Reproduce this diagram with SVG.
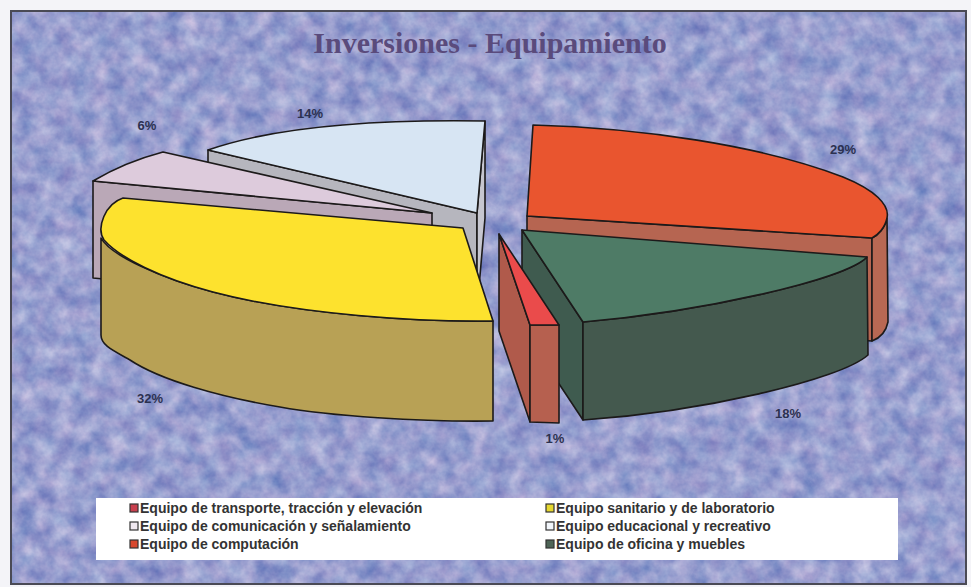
<svg xmlns="http://www.w3.org/2000/svg" width="971" height="587" viewBox="0 0 971 587">
<style>
.edge{stroke:#1c1a1a;stroke-width:1.6;stroke-linejoin:round}
.pct{font-family:"Liberation Sans",Arial,sans-serif;font-size:13px;font-weight:bold;fill:#2c3150;text-anchor:middle}
.leg{font-family:"Liberation Sans",Arial,sans-serif;font-size:14px;font-weight:bold;fill:#333333}
.mk{stroke:#333;stroke-width:1.2}
</style>
<defs>
<filter id="noise" x="0" y="0" width="100%" height="100%" color-interpolation-filters="sRGB">
<feTurbulence type="fractalNoise" baseFrequency="0.055" numOctaves="4" seed="7"/>
<feColorMatrix type="matrix" values="0.45 0.12 0 0 0.31  0.38 0 0 0 0.43  0.2 0 0 0 0.71  0 0 0 0 1"/>
</filter>
</defs>
<rect x="0" y="0" width="971" height="587" fill="#f4f4f8"/>
<rect x="11" y="11" width="955" height="573" fill="#9ca6d1"/>
<rect x="11" y="11" width="955" height="573" filter="url(#noise)"/>
<rect x="11" y="11" width="955" height="573" fill="none" stroke="#4a4a55" stroke-width="2"/>
<text x="490" y="53" font-family="'Liberation Serif','Times New Roman',serif" font-size="30" font-weight="bold" fill="#5a4b7c" text-anchor="middle">Inversiones - Equipamiento</text>
<g id="slice-educacional">
<path class="edge" fill="#b6b6be" d="M208,150 L477,213 L477,310 L208,247 Z"/>
<path class="edge" fill="#c6c6cf" d="M485,121 L485,218 L477,310 L477,213 Z"/>
<path class="edge" fill="#d7e5f3" d="M208,150 Q300,118 485,121 L477,213 Z"/>
</g>
<g id="slice-comunicacion">
<path class="edge" fill="#baa8b7" d="M93,181 L432,213 L432,310 L93,278 Z"/>
<path class="edge" fill="#ddcbdc" d="M93,181 Q125,162 163,152 L432,213 Z"/>
</g>
<g id="slice-sanitario">
<path class="edge" fill="#b8a155" d="M101,238 C110,255 160,278 213,292 C300,315 420,322 493,321 L493,421 C420,422 330,416 280,407 C220,397 160,380 130,360 C112,350 101,345 101,335 Z"/>
<path class="edge" fill="#fde22e" d="M123,198 L463,228 L493,321 C420,322 300,315 213,292 C160,278 120,258 104,240 C96,228 105,204 123,198 Z"/>
</g>
<g id="slice-computacion">
<path class="edge" fill="#b66551" d="M527,216 L872,238 L872,341 L527,319 Z"/>
<path class="edge" fill="#b86853" d="M872,238 C878,235 885,228 887,218 L888,322 C886,332 880,338 872,341 Z"/>
<path class="edge" fill="#e9552f" d="M533,125 C640,128 760,145 843,177 C875,190 890,205 887,218 C885,228 878,235 872,238 L527,216 Z"/>
</g>
<g id="slice-oficina">
<path class="edge" fill="#3f5b4f" d="M522,230 L583,322 L583,420 L522,328 Z"/>
<path class="edge" fill="#44594e" d="M583,322 C700,312 845,280 867,257 L868,355 C840,380 700,412 583,420 Z"/>
<path class="edge" fill="#4e7b66" d="M522,230 L867,257 C845,280 700,312 583,322 Z"/>
</g>
<g id="slice-transporte">
<path class="edge" fill="#b05a4b" d="M499,234 L530,325 L530,422 L499,331 Z"/>
<path class="edge" fill="#b6604f" d="M530,325 L559,325 L559,423 L530,422 Z"/>
<path class="edge" fill="#ea4b4b" d="M499,234 L559,325 L530,325 Z"/>
</g>
<g id="labels">
<text class="pct" x="310" y="118">14%</text>
<text class="pct" x="147" y="130">6%</text>
<text class="pct" x="843" y="154">29%</text>
<text class="pct" x="788" y="418">18%</text>
<text class="pct" x="150" y="403">32%</text>
<text class="pct" x="555" y="443">1%</text>
</g>
<g id="legend">
<rect x="96" y="498" width="802" height="62" fill="#ffffff"/>
<rect class="mk" x="130" y="504" width="8" height="8" fill="#c8404e"/>
<text class="leg" x="140" y="513">Equipo de transporte, tracción y elevación</text>
<rect class="mk" x="130" y="522" width="8" height="8" fill="#f0e8f0"/>
<text class="leg" x="140" y="531">Equipo de comunicación y señalamiento</text>
<rect class="mk" x="130" y="540" width="8" height="8" fill="#d8482e"/>
<text class="leg" x="140" y="549">Equipo de computación</text>
<rect class="mk" x="546" y="504" width="8" height="8" fill="#e6d830"/>
<text class="leg" x="556" y="513">Equipo sanitario y de laboratorio</text>
<rect class="mk" x="546" y="522" width="8" height="8" fill="#f2f6fb"/>
<text class="leg" x="556" y="531">Equipo educacional y recreativo</text>
<rect class="mk" x="546" y="540" width="8" height="8" fill="#4e6456"/>
<text class="leg" x="556" y="549">Equipo de oficina y muebles</text>
</g>
</svg>
